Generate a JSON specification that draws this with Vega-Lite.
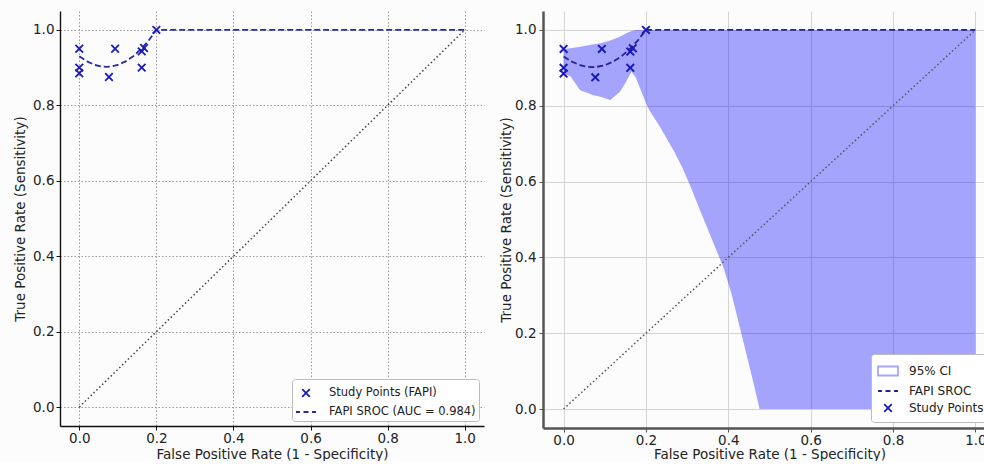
{
  "$schema": "https://vega.github.io/schema/vega-lite/v6.json",
  "background": "#fcfcfc",
  "padding": {"left": 13, "top": 11, "right": 0, "bottom": 0},
  "spacing": 15,
  "config": {
    "font": "DejaVu Sans",
    "view": {"stroke": null},
    "axis": {
      "labelFont": "DejaVu Sans", "titleFont": "DejaVu Sans",
      "labelFontSize": 13.5, "titleFontSize": 13.5, "titleFontWeight": "normal",
      "labelColor": "#222", "titleColor": "#222",
      "tickSize": 4, "labelPadding": 2
    },
    "legend": {"labelFont": "DejaVu Sans", "labelFontSize": 11.5, "labelColor": "#222"}
  },
  "resolve": {"scale": {"color": "independent", "shape": "independent"}, "legend": {"color": "independent", "shape": "independent"}},
  "datasets": {
    "points": [
      {"x": 0, "y": 0.95}, {"x": 0, "y": 0.90}, {"x": 0, "y": 0.885},
      {"x": 0.077, "y": 0.875}, {"x": 0.093, "y": 0.95}, {"x": 0.162, "y": 0.943},
      {"x": 0.168, "y": 0.952}, {"x": 0.162, "y": 0.90}, {"x": 0.2, "y": 1.0}
    ],
    "sroc": [
      {"x": 0, "y": 0.930}, {"x": 0.02, "y": 0.9165}, {"x": 0.04, "y": 0.907},
      {"x": 0.06, "y": 0.9026}, {"x": 0.07, "y": 0.902}, {"x": 0.08, "y": 0.9026},
      {"x": 0.10, "y": 0.907}, {"x": 0.12, "y": 0.9165}, {"x": 0.14, "y": 0.930},
      {"x": 0.16, "y": 0.949}, {"x": 0.18, "y": 0.972}, {"x": 0.2, "y": 1.0},
      {"x": 0.4, "y": 1.0}, {"x": 0.6, "y": 1.0}, {"x": 0.8, "y": 1.0}, {"x": 1.0, "y": 1.0}
    ],
    "ci": [
      {"x": 0, "lo": 0.885, "hi": 0.95}, {"x": 0.017, "lo": 0.877, "hi": 0.952},
      {"x": 0.04, "lo": 0.841, "hi": 0.956}, {"x": 0.073, "lo": 0.828, "hi": 0.962},
      {"x": 0.09, "lo": 0.824, "hi": 0.965}, {"x": 0.113, "lo": 0.815, "hi": 0.972},
      {"x": 0.137, "lo": 0.837, "hi": 0.982}, {"x": 0.15, "lo": 0.86, "hi": 0.99},
      {"x": 0.165, "lo": 0.89, "hi": 0.997}, {"x": 0.175, "lo": 0.875, "hi": 1.0},
      {"x": 0.2, "lo": 0.807, "hi": 1.0}, {"x": 0.208, "lo": 0.788, "hi": 1.0},
      {"x": 0.228, "lo": 0.755, "hi": 1.0},
      {"x": 0.248, "lo": 0.718, "hi": 1.0}, {"x": 0.268, "lo": 0.68, "hi": 1.0},
      {"x": 0.288, "lo": 0.638, "hi": 1.0}, {"x": 0.308, "lo": 0.588, "hi": 1.0},
      {"x": 0.328, "lo": 0.533, "hi": 1.0}, {"x": 0.348, "lo": 0.48, "hi": 1.0},
      {"x": 0.368, "lo": 0.427, "hi": 1.0},
      {"x": 0.388, "lo": 0.374, "hi": 1.0}, {"x": 0.408, "lo": 0.303, "hi": 1.0},
      {"x": 0.432, "lo": 0.198, "hi": 1.0}, {"x": 0.456, "lo": 0.092, "hi": 1.0},
      {"x": 0.476, "lo": 0.0, "hi": 1.0}, {"x": 1.0, "lo": 0.0, "hi": 1.0}
    ],
    "diag": [{"x": 0, "y": 0}, {"x": 1, "y": 1}],
    "ptsL": [{"series": "Study Points (FAPI)"}],
    "ptsR": [{"series": "Study Points"}]
  },
  "hconcat": [
    {
      "width": 424, "height": 415,
      "layer": [
        {
          "data": {"name": "diag"},
          "mark": {"type": "line", "color": "#444", "strokeDash": [1.5, 2.5], "strokeWidth": 1.5},
          "encoding": {
            "x": {"field": "x", "type": "quantitative", "scale": {"domain": [-0.05, 1.05], "nice": false, "zero": false},
              "axis": {"values": [0, 0.2, 0.4, 0.6, 0.8, 1.0], "format": ".1f", "title": "False Positive Rate (1 - Specificity)",
                "grid": true, "gridColor": "#999", "gridDash": [1.5, 2], "gridWidth": 1,
                "domainColor": "#111", "domainWidth": 1.4, "tickColor": "#111", "labelPadding": 1, "titlePadding": 3}},
            "y": {"field": "y", "type": "quantitative", "scale": {"domain": [-0.05, 1.05], "nice": false, "zero": false},
              "axis": {"values": [0, 0.2, 0.4, 0.6, 0.8, 1.0], "format": ".1f", "title": "True Positive Rate (Sensitivity)",
                "grid": true, "gridColor": "#999", "gridDash": [1.5, 2], "gridWidth": 1,
                "domainColor": "#111", "domainWidth": 1.4, "tickColor": "#111", "titlePadding": 5}}
          }
        },
        {
          "data": {"name": "sroc"},
          "mark": {"type": "line", "color": "#2a2aa6", "strokeDash": [6, 3], "strokeWidth": 1.8},
          "encoding": {
            "x": {"field": "x", "type": "quantitative"},
            "y": {"field": "y", "type": "quantitative"}
          }
        },
        {
          "data": {"name": "points"},
          "transform": [{"lookup": "x", "from": {"data": {"name": "ptsL"}, "key": "k", "fields": ["series"]}, "default": "Study Points (FAPI)"}],
          "mark": {"type": "point", "filled": false, "size": 400, "strokeWidth": 1.8, "opacity": 1},
          "encoding": {
            "x": {"field": "x", "type": "quantitative"},
            "y": {"field": "y", "type": "quantitative"},
            "color": {"field": "series", "type": "nominal",
              "scale": {"domain": ["Study Points (FAPI)", "FAPI SROC (AUC = 0.984)"], "range": ["#1a1ab8", "#2a2aa6"]},
              "legend": {"title": null, "orient": "bottom-right", "offset": 5, "fillColor": "white", "strokeColor": "#bbb",
                "padding": 3, "cornerRadius": 3, "symbolSize": 400, "symbolStrokeWidth": 1.8, "rowPadding": 0, "labelOffset": 12}},
            "shape": {"field": "series", "type": "nominal",
              "scale": {"domain": ["Study Points (FAPI)", "FAPI SROC (AUC = 0.984)"],
                "range": ["M-0.38,-0.38L0.38,0.38M-0.38,0.38L0.38,-0.38", "M-1,0H-0.6M-0.25,0H0.25M0.6,0H1"]},
              "legend": {"title": null, "orient": "bottom-right", "offset": 5, "fillColor": "white", "strokeColor": "#bbb",
                "padding": 3, "cornerRadius": 3, "symbolSize": 400, "symbolStrokeWidth": 1.8, "rowPadding": 0, "labelOffset": 12}}
          }
        }
      ]
    },
    {
      "width": 453, "height": 417,
      "layer": [
        {
          "data": {"name": "ci"},
          "mark": {"type": "area", "color": "#0000ff", "opacity": 0.35},
          "encoding": {
            "x": {"field": "x", "type": "quantitative", "scale": {"domain": [-0.05, 1.05], "nice": false, "zero": false},
              "axis": {"values": [0, 0.2, 0.4, 0.6, 0.8, 1.0], "format": ".1f", "title": "False Positive Rate (1 - Specificity)",
                "grid": true, "gridColor": "#d4d4d4", "gridWidth": 1,
                "domainColor": "#555", "domainWidth": 2.5, "tickColor": "#555", "labelPadding": 1, "titlePadding": 1}},
            "y": {"field": "lo", "type": "quantitative", "scale": {"domain": [-0.05, 1.05], "nice": false, "zero": false},
              "axis": {"values": [0, 0.2, 0.4, 0.6, 0.8, 1.0], "format": ".1f", "title": "True Positive Rate (Sensitivity)",
                "grid": true, "gridColor": "#d4d4d4", "gridWidth": 1,
                "domainColor": "#555", "domainWidth": 2.5, "tickColor": "#555", "titlePadding": 1, "labelPadding": 3}},
            "y2": {"field": "hi"}
          }
        },
        {
          "data": {"name": "diag"},
          "mark": {"type": "line", "color": "#555", "strokeDash": [1.5, 2.5], "strokeWidth": 1.5},
          "encoding": {
            "x": {"field": "x", "type": "quantitative"},
            "y": {"field": "y", "type": "quantitative"}
          }
        },
        {
          "data": {"name": "sroc"},
          "mark": {"type": "line", "color": "#23238f", "strokeDash": [6, 3], "strokeWidth": 1.8},
          "encoding": {
            "x": {"field": "x", "type": "quantitative"},
            "y": {"field": "y", "type": "quantitative"}
          }
        },
        {
          "data": {"name": "points"},
          "transform": [{"lookup": "x", "from": {"data": {"name": "ptsR"}, "key": "k", "fields": ["series"]}, "default": "Study Points"}],
          "mark": {"type": "point", "filled": false, "size": 400, "strokeWidth": 2, "opacity": 1},
          "encoding": {
            "x": {"field": "x", "type": "quantitative"},
            "y": {"field": "y", "type": "quantitative"},
            "color": {"field": "series", "type": "nominal",
              "scale": {"domain": ["95% CI", "FAPI SROC", "Study Points"], "range": ["#a6a6fb", "#23238f", "#1a1ab8"]},
              "legend": {"title": null, "orient": "bottom-right", "offset": 6, "fillColor": "white", "strokeColor": "#bbb",
                "padding": 6, "cornerRadius": 3, "symbolSize": 400, "symbolStrokeWidth": 1.8, "rowPadding": -1, "labelOffset": 10, "labelFontSize": 12,
                "encode": {"symbols": {"update": {"fill": {"signal": "datum.value === '95% CI' ? '#a6a6fb' : 'transparent'"}}}}}},
            "shape": {"field": "series", "type": "nominal",
              "scale": {"domain": ["95% CI", "FAPI SROC", "Study Points"],
                "range": ["M-1,-0.45L1,-0.45L1,0.45L-1,0.45Z", "M-1,0H-0.6M-0.25,0H0.25M0.6,0H1", "M-0.38,-0.38L0.38,0.38M-0.38,0.38L0.38,-0.38"]},
              "legend": {"title": null, "orient": "bottom-right", "offset": 6, "fillColor": "white", "strokeColor": "#bbb",
                "padding": 6, "cornerRadius": 3, "symbolSize": 400, "symbolStrokeWidth": 1.8, "rowPadding": -1, "labelOffset": 10, "labelFontSize": 12,
                "encode": {"symbols": {"update": {"fill": {"signal": "datum.value === '95% CI' ? '#a6a6fb' : 'transparent'"}}}}}}
          }
        }
      ]
    }
  ]
}
